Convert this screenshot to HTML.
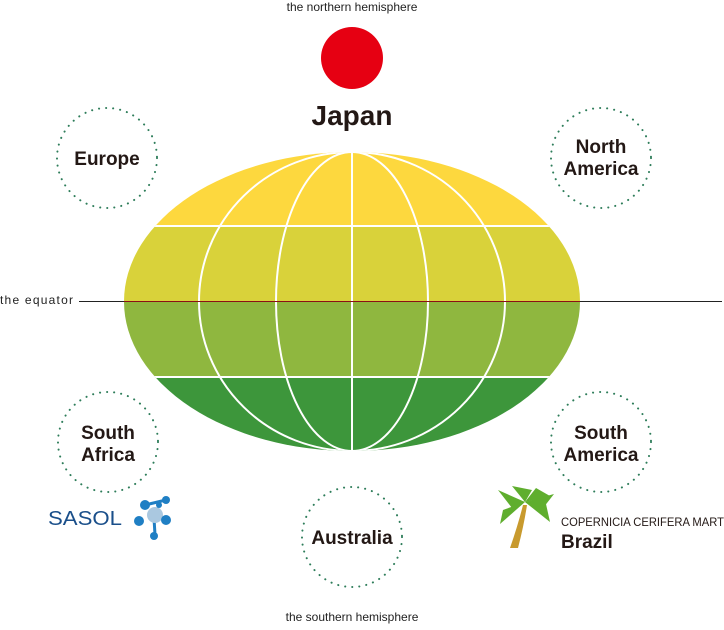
<!DOCTYPE html>
<html><head><style>
body{margin:0;background:#fff;width:724px;height:625px;overflow:hidden;font-family:"Liberation Sans",sans-serif}
</style></head><body>
<svg width="724" height="625" viewBox="0 0 724 625" xmlns="http://www.w3.org/2000/svg" font-family="Liberation Sans, sans-serif">
<defs><clipPath id="g"><ellipse cx="352" cy="301.5" rx="228" ry="149.5"/></clipPath></defs>
<g clip-path="url(#g)">
<rect x="120" y="150" width="470" height="76" fill="#fdd83e"/>
<rect x="120" y="226" width="470" height="76" fill="#d9d23a"/>
<rect x="120" y="302" width="470" height="76" fill="#8fb73f"/>
<rect x="120" y="378" width="470" height="76" fill="#3d963b"/>
<g stroke="#fff" stroke-width="2" fill="none">
<line x1="120" y1="226" x2="590" y2="226"/>
<line x1="120" y1="377" x2="590" y2="377"/>
<line x1="352" y1="150" x2="352" y2="455"/>
<ellipse cx="352" cy="301.5" rx="153" ry="149.5"/>
<ellipse cx="352" cy="301.5" rx="76" ry="149.5"/>
</g>
</g>
<line x1="79" y1="301.5" x2="722" y2="301.5" stroke="#222" stroke-width="1"/>
<line x1="124" y1="301.5" x2="580" y2="301.5" stroke="#8a1015" stroke-width="1"/>
<text x="0" y="304" font-size="12" fill="#222" textLength="73">the equator</text>
<text x="352" y="11" font-size="12" fill="#222" text-anchor="middle">the northern hemisphere</text>
<text x="352" y="621" font-size="12" fill="#222" text-anchor="middle">the southern hemisphere</text>
<circle cx="352" cy="58" r="31" fill="#e60012"/>
<text x="352" y="125" font-size="28" font-weight="bold" fill="#231815" text-anchor="middle">Japan</text>
<g fill="none" stroke="#2e7d5a" stroke-width="2" stroke-dasharray="0.1 7" stroke-linecap="round">
<circle cx="107" cy="158" r="50"/>
<circle cx="601" cy="158" r="50"/>
<circle cx="108" cy="442" r="50"/>
<circle cx="601" cy="442" r="50"/>
<circle cx="352" cy="537" r="50"/>
</g>
<g font-size="19" font-weight="bold" fill="#231815" text-anchor="middle">
<text x="107" y="165">Europe</text>
<text x="601" y="153">North</text><text x="601" y="175">America</text>
<text x="108" y="439">South</text><text x="108" y="461">Africa</text>
<text x="601" y="439">South</text><text x="601" y="461">America</text>
<text x="352" y="544">Australia</text>
</g>
<text x="48" y="525" font-size="20" fill="#1a4f8a" textLength="74" lengthAdjust="spacingAndGlyphs">SASOL</text>
<g fill="#1f7fc4">
<line x1="145" y1="505" x2="166" y2="500" stroke="#1f7fc4" stroke-width="3"/>
<line x1="154" y1="518" x2="155" y2="535" stroke="#1f7fc4" stroke-width="3"/>
<circle cx="155" cy="515" r="8" fill="#aac8e0"/>
<circle cx="145" cy="505" r="5"/><circle cx="166" cy="500" r="4"/><circle cx="159" cy="505" r="3"/>
<circle cx="139" cy="521" r="5"/><circle cx="166" cy="520" r="5"/><circle cx="154" cy="536" r="4"/>
</g>
<path d="M523 505 Q518 525 510 548 L518 548 Q524 525 527 505Z" fill="#c89a2e"/>
<g fill="#5fae2e">
<path d="M525 502 L498 490 L512 508Z"/><path d="M525 502 L554 494 L540 512Z"/>
<path d="M525 502 L512 486 L532 490Z"/><path d="M525 502 L546 504 L550 522Z"/>
<path d="M525 502 L503 510 L500 524Z"/><path d="M525 502 L536 488 L550 496Z"/>
</g>
<text x="561" y="526" font-size="12" fill="#231815" textLength="163" lengthAdjust="spacingAndGlyphs">COPERNICIA CERIFERA MART</text>
<text x="561" y="548" font-size="19" font-weight="bold" fill="#231815">Brazil</text>
</svg>
</body></html>
